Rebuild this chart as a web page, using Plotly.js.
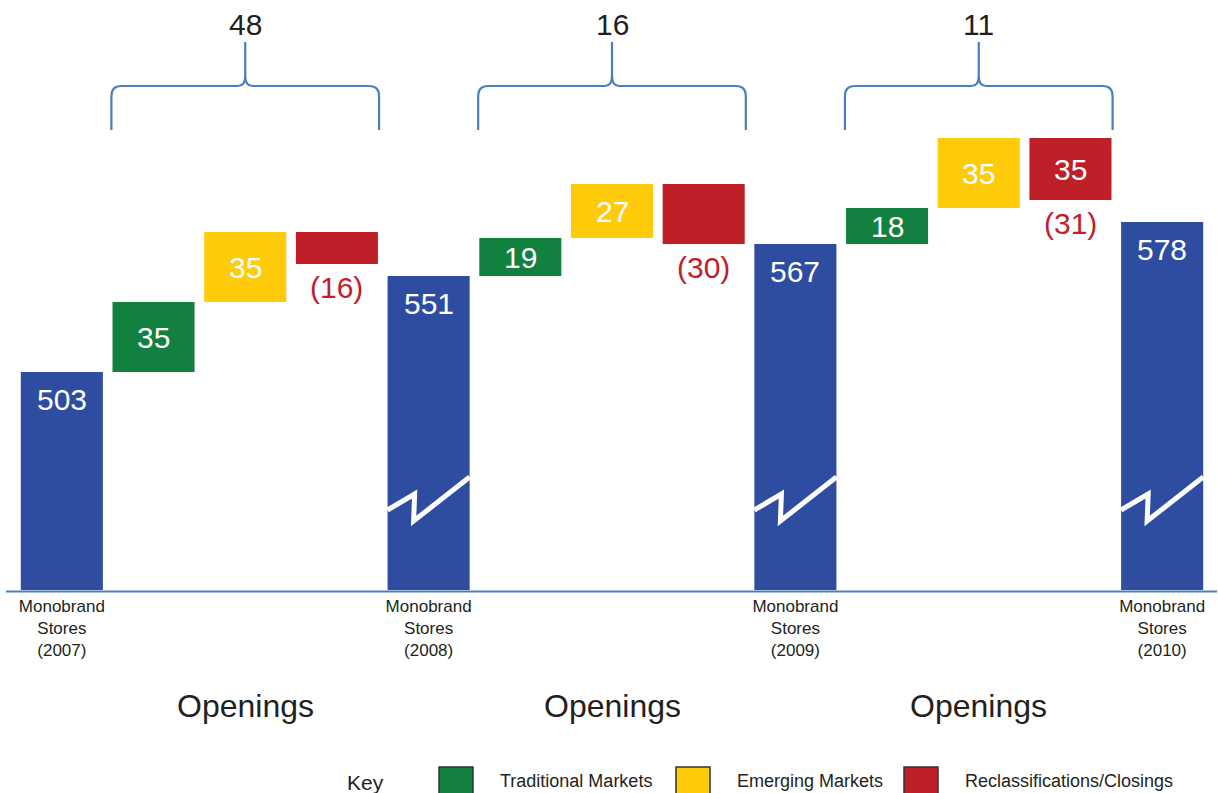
<!DOCTYPE html>
<html>
<head>
<meta charset="utf-8">
<script src="https://cdn.plot.ly/plotly-3.0.1.min.js"></script>
<style>html,body{margin:0;padding:0;background:#fff;}#chart{width:1218px;height:793px;}</style>
</head>
<body>
<div id="chart"></div>
<script>
// ---------------- data ----------------
const years = ['2007', '2008', '2009', '2010'];
const storeTotals = [503, 551, 567, 578];
const traditional = [35, 19, 18];
const emerging = [35, 27, 35];
const reclass = [-16, -30, -31];
const reclassInside = ['', '', '35'];
const openingsLabel = 'Openings';
const seriesNames = ['Traditional Markets', 'Emerging Markets', 'Reclassifications/Closings'];
const keyLabel = 'Key';

// ---------------- styles ----------------
const C_BLUE = '#2E4DA1', C_GREEN = '#12803E', C_YELLOW = '#FDCB0A', C_RED = '#BF1F26';
const C_LINE = '#4A7EC0', C_TEXT = '#231F20';
const FONT = 'Liberation Sans, Arial, Helvetica, sans-serif';
const BAR_W = 0.895;
const Y_MIN = 394, Y_MAX = 689;

// ---------------- build waterfall ----------------
const totX = [], gX = [], gB = [], yX = [], yB = [], rX = [], rB = [];
const annotations = [];
const shapes = [];
storeTotals.forEach((t, p) => {
  totX.push(p * 4);
});
for (let p = 0; p < traditional.length; p++) {
  let run = storeTotals[p];
  gX.push(p * 4 + 1); gB.push(run); run += traditional[p];
  yX.push(p * 4 + 2); yB.push(run); run += emerging[p];
  rX.push(p * 4 + 3); rB.push(run);
}

const traces = [
  {type: 'bar', x: totX, y: storeTotals, width: BAR_W, marker: {color: C_BLUE}, hoverinfo: 'skip', showlegend: false},
  {type: 'bar', x: gX, y: traditional, base: gB, width: BAR_W, marker: {color: C_GREEN}, name: seriesNames[0], hoverinfo: 'skip', showlegend: false},
  {type: 'bar', x: yX, y: emerging, base: yB, width: BAR_W, marker: {color: C_YELLOW}, name: seriesNames[1], hoverinfo: 'skip', showlegend: false},
  {type: 'bar', x: rX, y: reclass, base: rB, width: BAR_W, marker: {color: C_RED}, name: seriesNames[2], hoverinfo: 'skip', showlegend: false}
];

function lab(x, y, text, color, size, yshift, xref, yref, xanchor) {
  annotations.push({x: x, y: y, xref: xref || 'x', yref: yref || 'y', text: text, showarrow: false,
    xanchor: xanchor || 'center', yanchor: 'middle', yshift: yshift || 0,
    font: {family: FONT, size: size, color: color}});
}

// totals labels
storeTotals.forEach((t, i) => lab(totX[i], t, String(t), '#FFFFFF', 30, -27));
// step labels
traditional.forEach((v, i) => lab(gX[i], gB[i] + v / 2, String(v), '#FFFFFF', 30, 0));
emerging.forEach((v, i) => lab(yX[i], yB[i] + v / 2, String(v), '#FFFFFF', 30, 0));
reclass.forEach((v, i) => {
  if (reclassInside[i]) lab(rX[i], rB[i] + v / 2, reclassInside[i], '#FFFFFF', 30, 0);
  lab(rX[i], rB[i] + v, '(' + Math.abs(v) + ')', '#C0202A', 30, -23);
});

// braces with net change
const half = BAR_W / 2 + 0.012;
const rx = 0.109, cx = 0.08;
for (let p = 0; p < traditional.length; p++) {
  const xL = p * 4 + 1 - half, xR = p * 4 + 3 + half, xm = p * 4 + 2;
  const yb = 624, yh = 646, yc = 651, yt = 668;
  const path = `M ${xL},${yb} L ${xL},${yh - 5} Q ${xL},${yh} ${xL + rx},${yh} L ${xm - cx},${yh} Q ${xm},${yh} ${xm},${yc} L ${xm},${yt} ` +
               `M ${xm},${yc} Q ${xm},${yh} ${xm + cx},${yh} L ${xR - rx},${yh} Q ${xR},${yh} ${xR},${yh - 5} L ${xR},${yb}`;
  shapes.push({type: 'path', xref: 'x', yref: 'y', path: path, line: {color: C_LINE, width: 2.2}});
  lab(xm, 677, String(storeTotals[p + 1] - storeTotals[p]), C_TEXT, 30, 0);
  lab(xm, -0.1966, openingsLabel, C_TEXT, 32, 0, 'x', 'paper');
}

// axis break marks on later totals
for (let i = 1; i < totX.length; i++) {
  const x0 = totX[i] - BAR_W / 2, x1 = totX[i] + BAR_W / 2;
  const path = `M ${x0},${Y_MIN + 40} L ${x0 + 0.295},${Y_MIN + 48} L ${x0 + 0.284},${Y_MIN + 34.5} L ${x1},${Y_MIN + 56.5}`;
  shapes.push({type: 'path', xref: 'x', yref: 'y', path: path, line: {color: '#FFFFFF', width: 5}});
}

// baseline
shapes.push({type: 'line', xref: 'paper', yref: 'paper', x0: -0.0084, x1: 1.0075, y0: -0.0025, y1: -0.0025,
  line: {color: C_LINE, width: 2}});

// key
const px = v => (v - 16) / 1192, py = v => (590 - v) / 590;
lab(px(365), py(782), keyLabel, C_TEXT, 21, 0, 'paper', 'paper');
const keyBoxes = [[439, C_GREEN], [676, C_YELLOW], [904, C_RED]];
const keyTextX = [498, 735, 963];
keyBoxes.forEach((b, i) => {
  shapes.push({type: 'rect', xref: 'paper', yref: 'paper', x0: px(b[0]), x1: px(b[0] + 34), y0: py(767), y1: py(805),
    fillcolor: b[1], line: {color: '#333333', width: 1.5}});
  lab(px(keyTextX[i]), py(781), seriesNames[i], C_TEXT, 18, 0, 'paper', 'paper', 'left');
});

const layout = {
  width: 1218, height: 793,
  margin: {l: 16, r: 10, t: 0, b: 203},
  paper_bgcolor: '#FFFFFF', plot_bgcolor: '#FFFFFF',
  font: {family: FONT, color: C_TEXT},
  barmode: 'overlay',
  xaxis: {range: [-0.5, 12.5], tickvals: totX,
    ticktext: years.map(y => 'Monobrand<br>Stores<br>(' + y + ')'),
    tickfont: {family: FONT, size: 17, color: C_TEXT}, showgrid: false, zeroline: false, showline: false, ticks: '',
    ticklabelstandoff: 4, fixedrange: true},
  yaxis: {range: [Y_MIN, Y_MAX], visible: false, showgrid: false, zeroline: false, fixedrange: true},
  annotations: annotations,
  shapes: shapes,
  showlegend: false
};

Plotly.newPlot('chart', traces, layout, {displayModeBar: false, staticPlot: true});
</script>
</body>
</html>
